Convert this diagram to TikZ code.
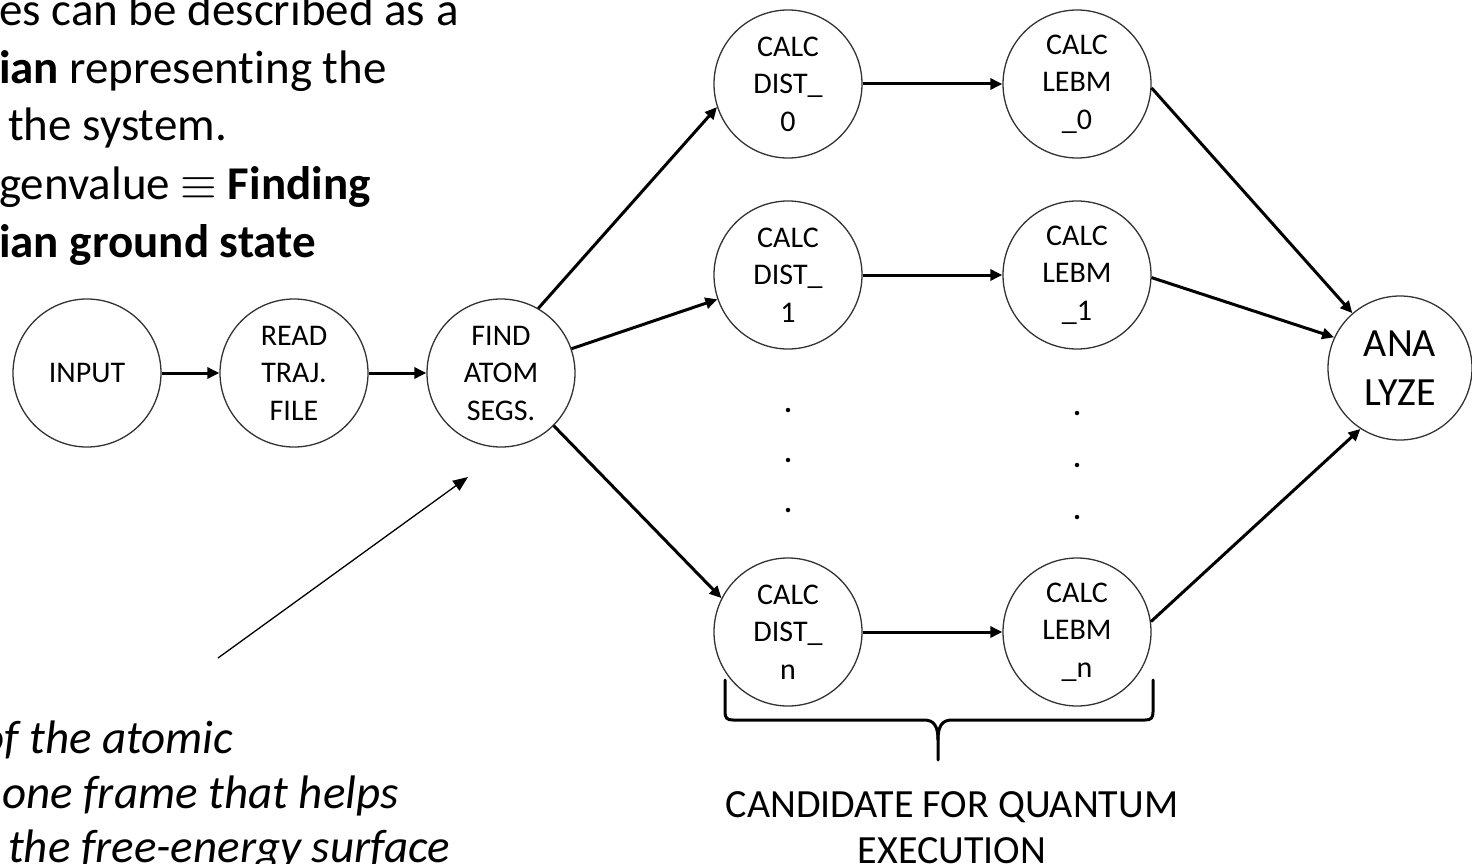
\documentclass[tikz,border=0pt]{standalone}
\usepackage{fontspec}
\setmainfont{Carlito}[Ligatures=NoCommon]
% scalable symbol font so that \equiv follows the large text size
\DeclareFontShape{OMS}{cmsy}{m}{n}{<->cmsy10}{}
\usetikzlibrary{arrows.meta}
\begin{document}
\begin{tikzpicture}[x=1pt,y=-1pt,
  stage/.style={circle,draw=black!80,line width=1.3pt,minimum size=148pt,
    inner sep=0pt,align=center,font=\fontsize{30}{37.5}\selectfont},
  flow/.style={line width=3pt,-{Triangle[length=12pt,width=11pt]}},
  pointer/.style={line width=1.3pt,-{Triangle[length=15pt,width=12pt]}},
  gap/.style={circle,fill=black,minimum size=4.5pt,inner sep=0pt},
  bodytext/.style={anchor=base west,inner sep=0pt,font=\fontsize{47}{58}\selectfont},
  notetext/.style={bodytext,font=\fontsize{47}{58}\selectfont\itshape},
  brace/.style={line width=3pt,line cap=round,line join=round}]
\useasboundingbox (0,0) rectangle (1472,864);
\clip (0,0) rectangle (1472,864);

% bullet text, upper left
\node[bodytext] (b1) at (-1,26) {es can be described as a};
\node[bodytext] (b2) at (-1,84) {\textbf{ian} representing the};
\node[bodytext] (b3) at (8,141) {the system.};
\node[bodytext] (b4) at (-1,199) {genvalue $\equiv$ \textbf{Finding}};
\node[bodytext] (b5) at (-1,257) {\textbf{ian ground state}};

% italic note, lower left
\node[notetext] (n1) at (-20,753) {of the atomic};
\node[notetext] (n2) at (2,808) {one frame that helps};
\node[notetext] (n3) at (8,862) {the free-energy surface};

% workflow stages
\node[stage] (input) at (87,373) {INPUT};
\node[stage] (read)  at (294,373) {READ\\TRAJ.\\FILE};
\node[stage] (find)  at (501,373) {FIND\\ATOM\\SEGS.};

\node[stage] (dist0) at (788,84)  {CALC\\DIST\_\\0};
\node[stage] (dist1) at (788,275) {CALC\\DIST\_\\1};
\node[stage] (distn) at (788,632) {CALC\\DIST\_\\n};

\node[stage] (lebm0) at (1077,84)  {CALC\\LEBM\\\_0};
\node[stage] (lebm1) at (1077,275) {CALC\\LEBM\\\_1};
\node[stage] (lebmn) at (1077,632) {CALC\\LEBM\\\_n};

\node[stage,minimum size=144pt,font=\fontsize{40}{49}\selectfont] (analyze) at (1400,368) {ANA\\LYZE};

% ellipsis between the parallel rows
\node[gap] (dd1) at (788,410) {};
\node[gap] (dd2) at (788,460) {};
\node[gap] (dd3) at (788,510) {};
\node[gap] (ld1) at (1077,413) {};
\node[gap] (ld2) at (1077,465) {};
\node[gap] (ld3) at (1077,517) {};

% connectors
\draw[flow] (input) -- (read);
\draw[flow] (read) -- (find);
\draw[flow] (find.60) -- (dist0.198);
\draw[flow] (find.19) -- (dist1.199);
\draw[flow] (find.-45) -- (distn.153);
\draw[flow] (dist0) -- (lebm0);
\draw[flow] (dist1) -- (lebm1);
\draw[flow] (distn) -- (lebmn);
\draw[flow] (lebm0.-3) -- (analyze.131);
\draw[flow] (lebm1.-2) -- (analyze.155);
\draw[flow] (lebmn.8) -- (analyze.237);

% annotation pointer
\coordinate (noteTail) at (218,658);
\coordinate (noteHead) at (468,477);
\draw[pointer] (noteTail) -- (noteHead);

% brace under the two calculation columns
\draw[brace] (725,680) -- (725,712) .. controls (725,718) and (727,720) .. (733,720)
  -- (924,720) .. controls (934,720) and (938,726) .. (938,740) -- (938,760);
\draw[brace] (1153,680) -- (1153,712) .. controls (1153,718) and (1151,720) .. (1145,720)
  -- (952,720) .. controls (942,720) and (938,726) .. (938,740);

\node[align=center,inner sep=0pt,font=\fontsize{40}{46}\selectfont,anchor=base]
  (cand) at (952,863) {CANDIDATE FOR QUANTUM\\EXECUTION};
\end{tikzpicture}
\end{document}
